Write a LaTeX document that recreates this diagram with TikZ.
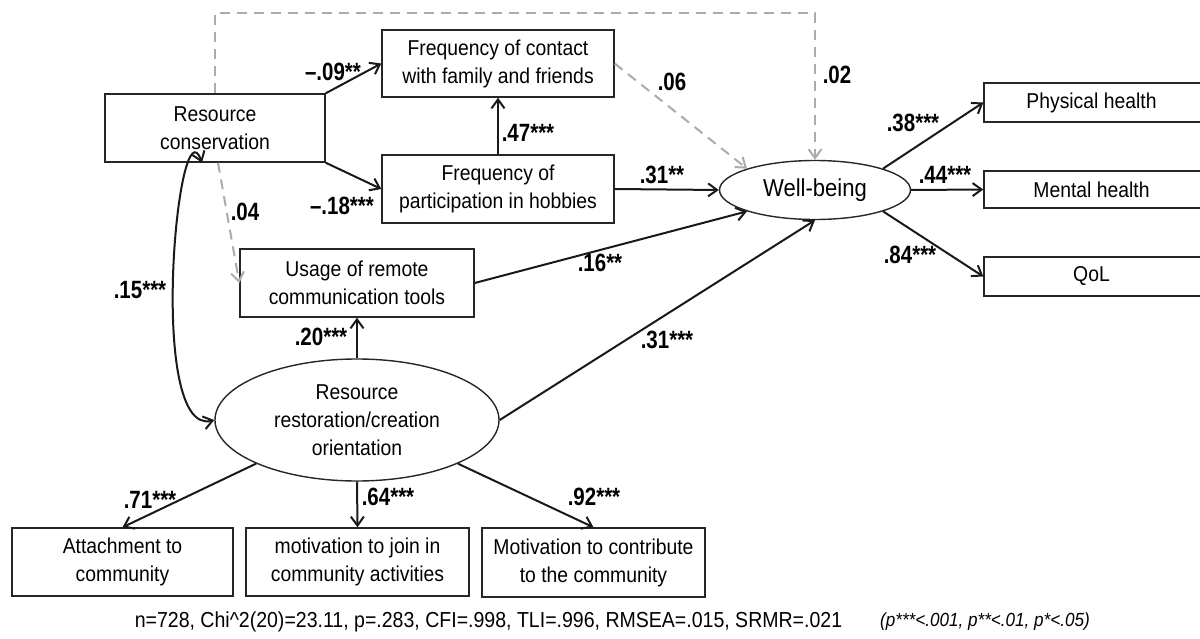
\documentclass[tikz,border=0pt]{standalone}
\usepackage{fontspec}
\setmainfont[FakeStretch=0.9]{Liberation Sans}
\newfontfamily\lblfont[FakeStretch=0.82]{Liberation Sans}
\usetikzlibrary{shapes.geometric,arrows.meta}

\begin{document}
\begin{tikzpicture}[x=1pt,y=-1pt,
  box/.style={draw=black!85,line width=1.4pt,inner sep=0pt,align=center,
    font=\fontsize{21.5}{28}\selectfont},
  latent/.style={draw=black!85,line width=1.4pt,ellipse,inner sep=0pt,align=center,
    font=\fontsize{21.5}{28}\selectfont},
  lbl/.style={inner sep=0pt,font=\lblfont\bfseries\fontsize{25}{28}\selectfont},
  tip/.tip={Straight Barb[length=9pt,width=13pt]},
  arr/.style={-tip,line width=2pt,draw=black!90},
  dbl/.style={tip-tip,line width=2pt,draw=black!90},
  dsh/.style={-tip,line width=2pt,draw=black!33,dash pattern=on 10pt off 7pt},
]
\useasboundingbox (0,0) rectangle (1200,639);

% observed and latent variables
\node[box,minimum width=220,minimum height=68] (rc) at (215,128) {Resource\\conservation};
\node[box,minimum width=232,minimum height=67] (contact) at (498,63.5) {Frequency of contact\\with family and friends};
\node[box,minimum width=232,minimum height=68] (hobbies) at (498,189) {Frequency of\\participation in hobbies};
\node[box,minimum width=234,minimum height=68] (usage) at (357,283) {Usage of remote\\communication tools};
\node[latent,minimum width=284,minimum height=122] (rr) at (357,420) {Resource\\restoration/creation\\orientation};
\node[latent,minimum width=191,minimum height=59,font=\fontsize{24.5}{28}\selectfont] (wb) at (815,190) {Well-being};

% outcome boxes run on past the right edge of the page
\node[box,minimum width=219,minimum height=39] (phys) at (1093.5,102.5) {\hspace*{-4pt}Physical health};
\node[box,minimum width=219,minimum height=37] (mental) at (1093.5,189.5) {\hspace*{-4pt}Mental health};
\node[box,minimum width=219,minimum height=39] (qol) at (1093.5,276.5) {\hspace*{-4pt}QoL};

\node[box,minimum width=221,minimum height=68] (att) at (122.5,562) {Attachment to\\community};
\node[box,minimum width=223,minimum height=68] (join) at (357.5,562) {motivation to join in\\community activities};
\node[box,minimum width=223,minimum height=69] (contrib) at (593.5,562.5) {Motivation to contribute\\to the community};

% significant paths
\draw[arr] (rc.north east) -- (contact.west);
\draw[arr] (rc.south east) -- (hobbies.west);
\draw[arr] (hobbies.north) -- (contact.south);
\draw[arr] (hobbies.east) -- (wb.west);
\draw[arr] (usage.east) -- (wb.south west);
\draw[arr] (rr.east) -- (wb.south);
\draw[arr] (rr.north) -- (usage.south);
\draw[arr] (wb.north east) -- (phys.west);
\draw[arr] (wb.east) -- (mental.west);
\draw[arr] (wb.south east) -- (qol.west);
\draw[arr] (rr.south west) -- (att.north);
\draw[arr] (rr.south) -- (join.north);
\draw[arr] (rr.south east) -- (contrib.north);
\draw[dbl] ([xshift=-13pt]rc.south) to[out=110,in=195,looseness=0.7] (rr.west);

% non-significant paths
\coordinate (topy) at (0,13);
\draw[dsh] (rc.north) -- (rc.north |- topy) -- (wb.north |- topy) -- (wb.north);
\draw[dsh] (contact.east) -- (wb.north west);
\draw[dsh] ([xshift=3pt]rc.south) -- (usage.west);

% path coefficients
\node[lbl] (l09) at (333,72) {–.09**};
\node[lbl] (l18) at (342,206) {–.18***};
\node[lbl] (l47) at (528,133) {.47***};
\node[lbl] (l31a) at (662,175) {.31**};
\node[lbl] (l06) at (672,82) {.06};
\node[lbl] (l02) at (837,75) {.02};
\node[lbl] (l04) at (245,212) {.04};
\node[lbl] (l15) at (140,290) {.15***};
\node[lbl] (l20) at (321,337) {.20***};
\node[lbl] (l16) at (600,263) {.16**};
\node[lbl] (l31b) at (667,340) {.31***};
\node[lbl] (l38) at (913,123) {.38***};
\node[lbl] (l44) at (945,175) {.44***};
\node[lbl] (l84) at (910,255) {.84***};
\node[lbl] (l71) at (150,500) {.71***};
\node[lbl] (l64) at (388,497) {.64***};
\node[lbl] (l92) at (594,497) {.92***};

% model fit
\node[inner sep=0pt,font=\fontsize{21.7}{24}\selectfont] (fit) at (488.5,622)
  {n=728, Chi\textasciicircum 2(20)=23.11, p=.283, CFI=.998, TLI=.996, RMSEA=.015, SRMR=.021};
\node[inner sep=0pt,font=\itshape\fontsize{19}{24}\selectfont] (pval) at (985,622)
  {(p***<.001, p**<.01, p*<.05)};
\end{tikzpicture}
\end{document}
